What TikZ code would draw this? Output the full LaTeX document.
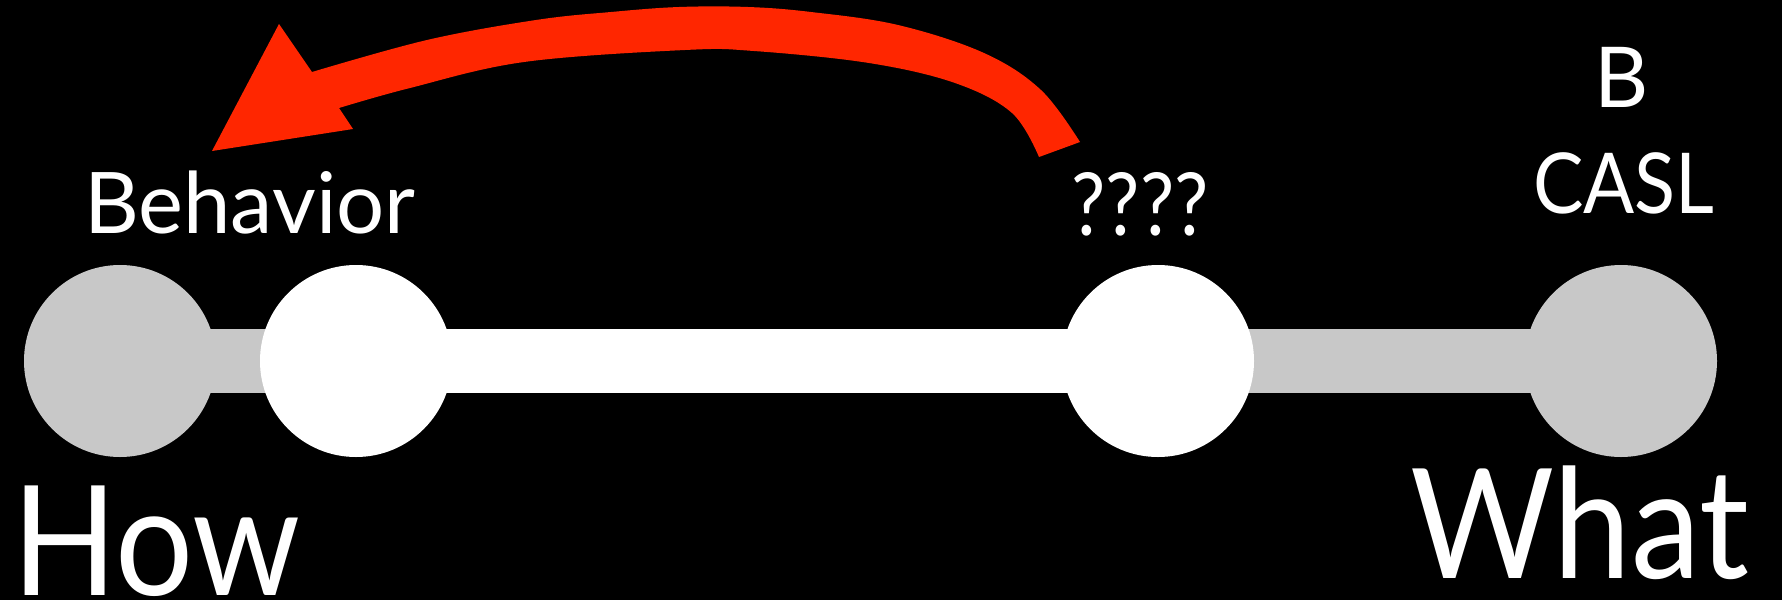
\documentclass[tikz,border=0pt]{standalone}
\usepackage{graphicx}
\usepackage{fontspec}
\setmainfont{Lato}
\pgfdeclarelayer{bg}
\pgfdeclarelayer{mid}
\pgfsetlayers{bg,mid,main}
\definecolor{lgray}{RGB}{200,200,200}
\definecolor{arrred}{RGB}{255,38,0}
\tikzset{
  dot/.style={circle, minimum size=192pt, inner sep=0pt, draw=none},
  bar/.style={line width=64pt},
  lbl/.style={text=white, inner sep=0pt},
}
\begin{document}
\begin{tikzpicture}[x=1pt,y=-1pt]
\useasboundingbox (0,0) rectangle (1782,600);
\begin{pgfonlayer}{bg}
\fill[black] (0,0) rectangle (1782,600);
\end{pgfonlayer}
% circles
\node[dot, fill=lgray] (c1) at (120,361) {};
\node[dot, fill=white] (c2) at (356,361) {};
\node[dot, fill=white] (c3) at (1158,361) {};
\node[dot, fill=lgray] (c4) at (1621,361) {};
% bars
\begin{pgfonlayer}{mid}
\draw[bar, lgray] (c1.center) -- (c2.center);
\draw[bar, white] (c2.center) -- (c3.center);
\draw[bar, lgray] (c3.center) -- (c4.center);
\end{pgfonlayer}
% red curved arrow
\fill[arrred] (212,151) -- (279,24) -- (312,72)
  -- plot[smooth, tension=0.6] coordinates {(312,72) (427,40) (536,20) (611,12) (679,7) (748,7) (811,12) (898,25) (984,53) (1041,90) (1080,142)}
  -- (1039,157)
  -- plot[smooth, tension=0.6] coordinates {(1039,157) (1012,113) (955,83) (869,63) (754,51) (685,50) (524,62) (410,88) (339,108)}
  -- (353,129) -- cycle;
% labels
\node[lbl, font=\fontsize{85}{90}\selectfont, anchor=base west] (beh) at (84,233) {Behavior};
\node[lbl, font=\fontsize{87}{90}\selectfont, anchor=base] (qq) at (1140,235) {\scalebox{0.88}[1]{????}};
\node[lbl, font=\fontsize{84}{90}\selectfont, anchor=base] (bb) at (1622,107) {B};
\node[lbl, font=\fontsize{84}{90}\selectfont, anchor=base] (casl) at (1624,213) {\scalebox{0.9}[1]{CASL}};
\node[lbl, font=\fontsize{153}{160}\selectfont, anchor=base west] (how) at (12,595) {\scalebox{0.9}[1]{How}};
\node[lbl, font=\fontsize{153}{160}\selectfont, anchor=base west] (what) at (1410,578) {\scalebox{0.91}[1]{What}};
\end{tikzpicture}
\end{document}
